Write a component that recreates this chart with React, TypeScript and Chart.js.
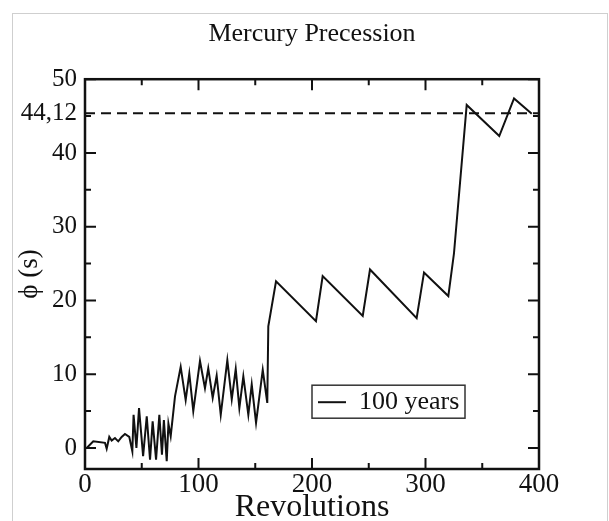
import React, { useEffect, useRef } from "react";
import { Chart, registerables } from "chart.js";
Chart.register(...registerables);

const TITLE = "Mercury Precession";
const X_TITLE = "Revolutions";
const Y_TITLE = "ϕ (s)";
const SERIES_LABEL = "100 years";

const revolutions = [1.5, 7.3, 17.6, 19.1, 21.4, 23.5, 26.4, 29.3, 32.3, 35.2, 39, 41.7, 42.8, 45.3, 47.6, 51.2, 54.4, 57.3, 59.6, 62.6, 65.5, 67.8, 69.5, 72, 73.5, 75.5, 79.3, 84.3, 88.7, 91.9, 95.4, 101.3, 105.7, 108.6, 112.5, 116, 119.6, 125.4, 129.3, 132.8, 136, 139.5, 143.9, 146.9, 150.7, 156.6, 160.6, 161.5, 168.3, 203.5, 209.4, 244.7, 251.1, 292.2, 298.7, 320.1, 325.1, 336.3, 365, 378, 393.6];
const phi = [0, 0.9, 0.7, -0.1, 1.5, 1.0, 1.35, 0.9, 1.5, 1.9, 1.5, -0.45, 4.5, 0.0, 5.4, -1.1, 4.3, -1.6, 3.6, -1.6, 4.5, -0.9, 3.8, -1.8, 3.3, 1.6, 7.0, 11.0, 6.5, 10.1, 5.0, 11.8, 8.1, 10.8, 6.8, 9.8, 4.5, 11.9, 6.6, 10.7, 5.4, 9.7, 4.5, 8.6, 3.4, 10.6, 6.1, 16.5, 22.6, 17.2, 23.3, 17.9, 24.2, 17.6, 23.8, 20.6, 26.4, 46.5, 42.3, 47.4, 45.3];

const REF_VALUE = 45.4;
const REF_LABEL = "44,12";
const REF_SPAN = [0, 400];

const xMajorTicks = [0, 100, 200, 300, 400];
const xMinorTicks = [50, 150, 250, 350];
const yMajorTicks = [0, 10, 20, 30, 40, 50];
const yMinorTicks = [5, 15, 25, 35, 45];
const yLabelTicks = [0, 10, 20, 30, 40, REF_VALUE, 50];
const X_MIN = 0, X_MAX = 400, Y_MIN = -2.85, Y_MAX = 50;

const SERIF = "'Liberation Serif', 'Times New Roman', serif";
const INK = "#111";

const framePlugin = {
  id: "frameTicks",
  afterDraw(chart: any) {
    const { ctx, chartArea: a, scales } = chart;
    const xs = scales.x, ys = scales.y;
    ctx.save();
    ctx.strokeStyle = INK;
    ctx.lineWidth = 2.5;
    ctx.strokeRect(a.left, a.top, a.right - a.left, a.bottom - a.top);
    ctx.lineWidth = 2;
    const MAJ = 11, MIN = 6;
    const vt = (v: number, len: number) => {
      const px = xs.getPixelForValue(v);
      ctx.beginPath();
      ctx.moveTo(px, a.bottom); ctx.lineTo(px, a.bottom - len);
      ctx.moveTo(px, a.top); ctx.lineTo(px, a.top + len);
      ctx.stroke();
    };
    const ht = (v: number, len: number) => {
      const py = ys.getPixelForValue(v);
      ctx.beginPath();
      ctx.moveTo(a.left, py); ctx.lineTo(a.left + len, py);
      ctx.moveTo(a.right, py); ctx.lineTo(a.right - len, py);
      ctx.stroke();
    };
    xMajorTicks.forEach((v) => vt(v, MAJ));
    xMinorTicks.forEach((v) => vt(v, MIN));
    yMajorTicks.forEach((v) => ht(v, MAJ));
    yMinorTicks.forEach((v) => ht(v, MIN));

    // legend box inside plot
    const ds = chart.data.datasets[0];
    const bx = a.left + 227, by = a.top + 306, bw = 153, bh = 33;
    ctx.lineWidth = 1.5;
    ctx.strokeStyle = "#333";
    ctx.strokeRect(bx, by, bw, bh);
    ctx.strokeStyle = INK;
    ctx.lineWidth = 2;
    ctx.beginPath();
    ctx.moveTo(bx + 6, by + bh / 2 + 0.5);
    ctx.lineTo(bx + 34, by + bh / 2 + 0.5);
    ctx.stroke();
    ctx.fillStyle = INK;
    ctx.font = `26px ${SERIF}`;
    ctx.textBaseline = "alphabetic";
    ctx.textAlign = "left";
    ctx.fillText(ds.label, bx + 47, by + 24);
    ctx.restore();
  },
};

export default function App() {
  const ref = useRef<HTMLCanvasElement | null>(null);
  useEffect(() => {
    if (!ref.current) return;
    const chart = new Chart(ref.current, {
      type: "scatter",
      data: {
        datasets: [
          {
            label: SERIES_LABEL,
            data: revolutions.map((x, i) => ({ x, y: phi[i] })),
            showLine: true,
            borderColor: INK,
            borderWidth: 2,
            pointRadius: 0,
            tension: 0,
          },
          {
            label: "ref",
            data: REF_SPAN.map((x) => ({ x, y: REF_VALUE })),
            showLine: true,
            borderColor: INK,
            borderWidth: 2,
            borderDash: [10, 6],
            pointRadius: 0,
          },
        ],
      },
      options: {
        animation: false,
        responsive: false,
        layout: { padding: { left: 0, right: 70, top: 0, bottom: 0 } },
        plugins: {
          legend: { display: false },
          tooltip: { enabled: false },
          title: {
            display: true,
            fullSize: false,
            text: TITLE,
            color: INK,
            font: { family: SERIF, size: 26, weight: "normal", lineHeight: 1.2 },
            padding: { top: 19, bottom: 29 },
          },
        },
        scales: {
          x: {
            type: "linear",
            min: X_MIN,
            max: X_MAX,
            grid: { display: false, drawTicks: false },
            border: { display: false },
            afterBuildTicks: (s: any) => {
              s.ticks = xMajorTicks.map((v) => ({ value: v }));
            },
            afterFit: (s: any) => {
              s.height = 52;
            },
            ticks: {
              color: INK,
              padding: 0,
              maxRotation: 0,
              font: { family: SERIF, size: 27 },
            },
            title: {
              display: true,
              text: X_TITLE,
              color: INK,
              font: { family: SERIF, size: 32, lineHeight: 1 },
              padding: { top: 0, bottom: -3 },
            },
          },
          y: {
            type: "linear",
            min: Y_MIN,
            max: Y_MAX,
            grid: { display: false, drawTicks: false },
            border: { display: false },
            afterBuildTicks: (s: any) => {
              s.ticks = yLabelTicks.map((v) => ({ value: v }));
            },
            afterFit: (s: any) => {
              s.width = 85;
            },
            ticks: {
              color: INK,
              padding: 8,
              font: { family: SERIF, size: 25 },
              callback: (v: any) => (v === REF_VALUE ? REF_LABEL : String(v)),
            },
            title: {
              display: true,
              text: Y_TITLE,
              color: INK,
              font: { family: SERIF, size: 27, lineHeight: 1 },
              padding: { top: 16, bottom: 0 },
            },
          },
        },
      },
      plugins: [framePlugin],
    } as any);
    return () => chart.destroy();
  }, []);

  return (
    <div style={{ position: "fixed", left: 0, top: 0, width: 609, height: 521, background: "#fff" }}>
      <div
        style={{
          position: "absolute",
          left: 12,
          top: 13,
          width: 596,
          height: 520,
          boxSizing: "border-box",
          border: "1px solid #cfcfcf",
        }}
      />
      <canvas ref={ref} width={609} height={521} style={{ position: "absolute", left: 0, top: 0 }} />
    </div>
  );
}
